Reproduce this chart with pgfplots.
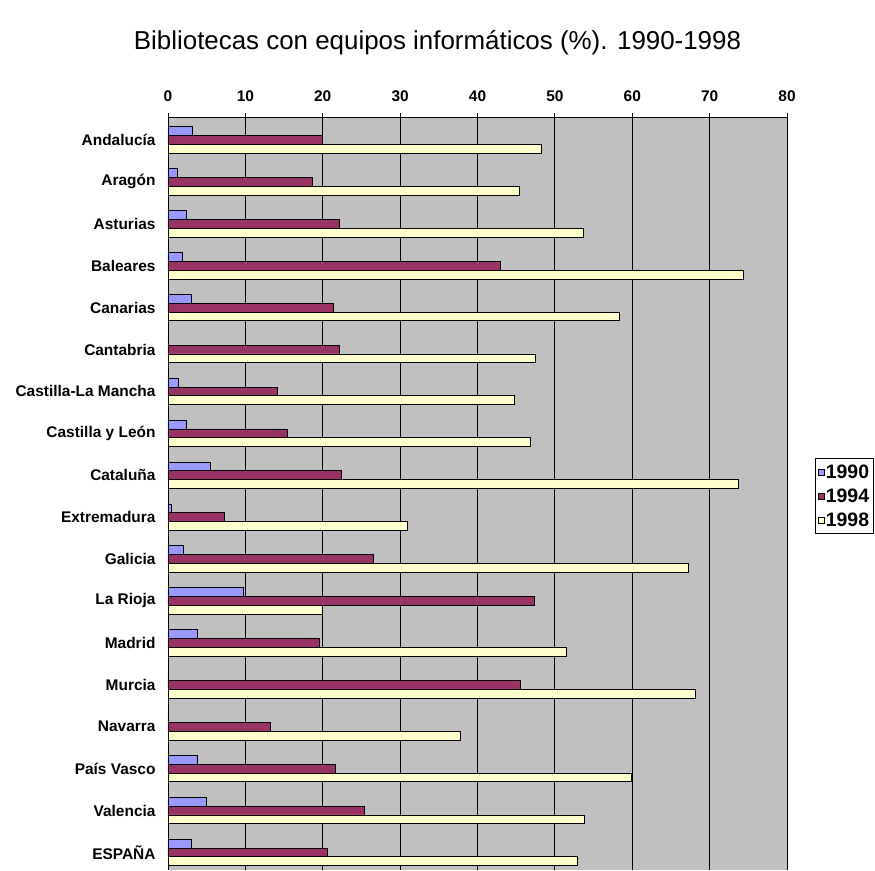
\documentclass[border=0pt]{standalone}
\usepackage{fontspec}
\setmainfont{Liberation Sans}
\usepackage{pgfplots}
\pgfplotsset{compat=1.18}
\usepackage{pgfplotstable}

\definecolor{c90}{HTML}{9999FF}
\definecolor{c94}{HTML}{993366}
\definecolor{c98}{HTML}{FFFFCC}
\definecolor{plotbg}{HTML}{C0C0C0}

% region, 1990, 1994, 1998 (%)
\pgfplotstableread[col sep=comma]{
idx,y90,y94,y98
0,3.1,20.0,48.3
1,1.2,18.7,45.4
2,2.4,22.2,53.7
3,1.8,43.0,74.3
4,3.0,21.4,58.4
5,0,22.2,47.5
6,1.4,14.2,44.8
7,2.4,15.4,46.9
8,5.5,22.4,73.7
9,0.4,7.3,30.9
10,2.0,26.5,67.2
11,9.8,47.4,20.0
12,3.8,19.6,51.5
13,0,45.5,68.1
14,0,13.2,37.8
15,3.8,21.6,59.9
16,4.9,25.4,53.8
17,3.0,20.6,52.9
}\datatable

\begin{document}
\begin{tikzpicture}
\begin{axis}[
  scale only axis,
  width=619bp, height=753bp,
  xbar, bar width=0.21,
  xmin=0, xmax=80,
  ymin=-0.55, ymax=17.42,
  y dir=reverse,
  axis x line*=top,
  axis y line*=left,
  axis line style={black, line width=0.8pt},
  axis background/.style={fill=plotbg},
  xtick={0,10,...,80},
  xmajorgrids, major grid style={black, line width=0.8pt},
  x tick style={black, line width=0.8pt},
  major tick length=4bp,
  tick align=outside,
  ytick={0,...,17},
  y tick style={draw=none},
  minor ytick={0.5,1.5,...,16.5},
  minor y tick style={black, line width=0.8pt},
  minor tick length=4bp,
  yticklabels={Andalucía, Aragón, Asturias, Baleares, Canarias, Cantabria,
    Castilla-La Mancha, Castilla y León, Cataluña, Extremadura, Galicia,
    La Rioja, Madrid, Murcia, Navarra, País Vasco, Valencia, ESPAÑA},
  ticklabel style={font=\fontsize{15.5}{17}\selectfont\bfseries},
  /pgf/number format/assume math mode=true,
  xticklabel style={yshift=8bp},
  yticklabel style={xshift=-5bp},
  title={Bibliotecas con equipos informáticos (\%). 1990-1998},
  title style={at={(axis description cs:0.4354,1.0903)}, anchor=center,
    font=\fontsize{26}{29}\selectfont},
  legend style={at={(axis description cs:1.045,0.547)}, anchor=north west,
    draw=black, line width=0.8pt, fill=white,
    font=\fontsize{19.5}{21}\selectfont\bfseries,
    row sep=5bp, inner xsep=3bp, inner ysep=4bp,
    nodes={inner xsep=1bp}},
  legend cell align=left,
  legend image code/.code={\draw[#1, draw=black, line width=0.6pt] (0bp,-3bp) rectangle (6bp,3bp);},
]
\addplot[fill=c90, draw=black, line width=0.8pt, bar shift=-0.21] table[x=y90, y=idx] {\datatable};
\addplot[fill=c94, draw=black, line width=0.8pt, bar shift=0] table[x=y94, y=idx] {\datatable};
\addplot[fill=c98, draw=black, line width=0.8pt, bar shift=0.21] table[x=y98, y=idx] {\datatable};
\legend{1990,1994,1998}
\end{axis}
\pgfresetboundingbox
\path[use as bounding box] ([xshift=-168bp]current axis.south west) rectangle ([xshift=88bp,yshift=117bp]current axis.north east);
\end{tikzpicture}
\end{document}
